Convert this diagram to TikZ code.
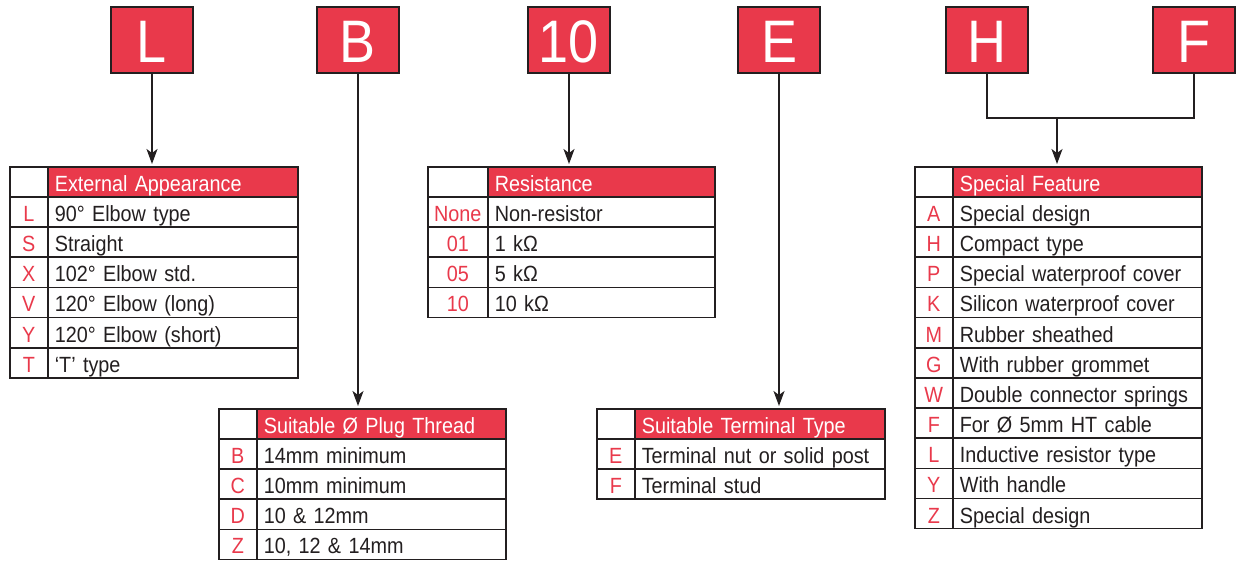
\documentclass[tikz,border=0pt]{standalone}
\usepackage{fontspec}
\setmainfont{Liberation Sans}[FakeStretch=0.9]
\usetikzlibrary{arrows.meta}
\definecolor{hred}{RGB}{233,57,75}
\definecolor{ink}{RGB}{35,31,32}
\def\rowh{30.15}
\tikzset{
  cellbase/.style={draw=ink, line width=1.6pt, anchor=north west, inner ysep=0pt,
    minimum height=\rowh pt, font=\fontsize{22}{24}\selectfont, text height=20pt, text depth=1pt},
  blank/.style={cellbase, fill=white, inner xsep=0pt},
  head/.style={cellbase, fill=hred, text=white, inner xsep=7pt, align=left},
  codecell/.style={cellbase, fill=white, text=hred, inner xsep=0pt},
  desc/.style={cellbase, fill=white, text=ink, inner xsep=7pt, align=left},
  letter/.style={draw=ink, line width=1.6pt, fill=hred, text=white, minimum width=82pt,
    minimum height=66pt, inner sep=0pt, font=\fontsize{60}{60}\selectfont, text height=44pt, text depth=0pt},
  link/.style={draw=ink, line width=1.6pt},
  conn/.style={link, shorten >=2pt, -{Stealth[length=15pt,width=11pt,inset=4pt]}}
}
\newcommand\codetable[7]{%
  \pgfmathsetmacro\cw{#3-#2}%
  \pgfmathsetmacro\dw{#4-#3-14}%
  \node[blank, minimum width=\cw pt] (#1-0) at (#2,#5) {};
  \node[head, text width=\dw pt] (#1-h) at (#3,#5) {#6};
  \foreach \c/\d [count=\i] in {#7}{
    \pgfmathsetmacro\yy{#5+\i*\rowh}
    \node[codecell, minimum width=\cw pt] (#1-c\i) at (#2,\yy) {\c};
    \node[desc, text width=\dw pt] (#1-d\i) at (#3,\yy) {\d};
  }
}
\begin{document}
\begin{tikzpicture}[x=1pt,y=-1pt]
\useasboundingbox (0,0) rectangle (1236,560);
% letter boxes
\node[letter] (L) at (152,40) {L};
\node[letter] (B) at (358,40) {B};
\node[letter] (R) at (569,40) {10};
\node[letter] (E) at (779,40) {E};
\node[letter] (H) at (987,40) {H};
\node[letter] (F) at (1194,40) {F};
% tables
\codetable{t1}{9}{47}{297}{166}{External Appearance}{L/90° Elbow type, S/Straight, X/102° Elbow std., V/120° Elbow (long), Y/120° Elbow (short), T/‘T’ type}
\codetable{t2}{218}{256}{505}{408}{Suitable Ø Plug Thread}{B/14mm minimum, C/10mm minimum, D/10 \& 12mm, Z/{10, 12 \& 14mm}}
\codetable{t3}{427}{487}{714}{166}{Resistance}{None/Non-resistor, 01/1 kΩ, 05/5 kΩ, 10/10 kΩ}
\codetable{t4}{596}{634}{884}{408}{Suitable Terminal Type}{E/Terminal nut or solid post, F/Terminal stud}
\codetable{t5}{914}{952}{1201}{166}{Special Feature}{A/Special design, H/Compact type, P/Special waterproof cover, K/Silicon waterproof cover, M/Rubber sheathed, G/With rubber grommet, W/Double connector springs, F/For Ø 5mm HT cable, L/Inductive resistor type, Y/With handle, Z/Special design}
% connectors
\draw[conn] (L.south) -- (L.south |- t1-h.north);
\draw[conn] (B.south) -- (B.south |- t2-h.north);
\draw[conn] (R.south) -- (R.south |- t3-h.north);
\draw[conn] (E.south) -- (E.south |- t4-h.north);
\coordinate (j) at (1057,118);
\draw[link] (H.south) |- (j) -| (F.south);
\draw[conn] (j) -- (j |- t5-h.north);
\end{tikzpicture}
\end{document}
